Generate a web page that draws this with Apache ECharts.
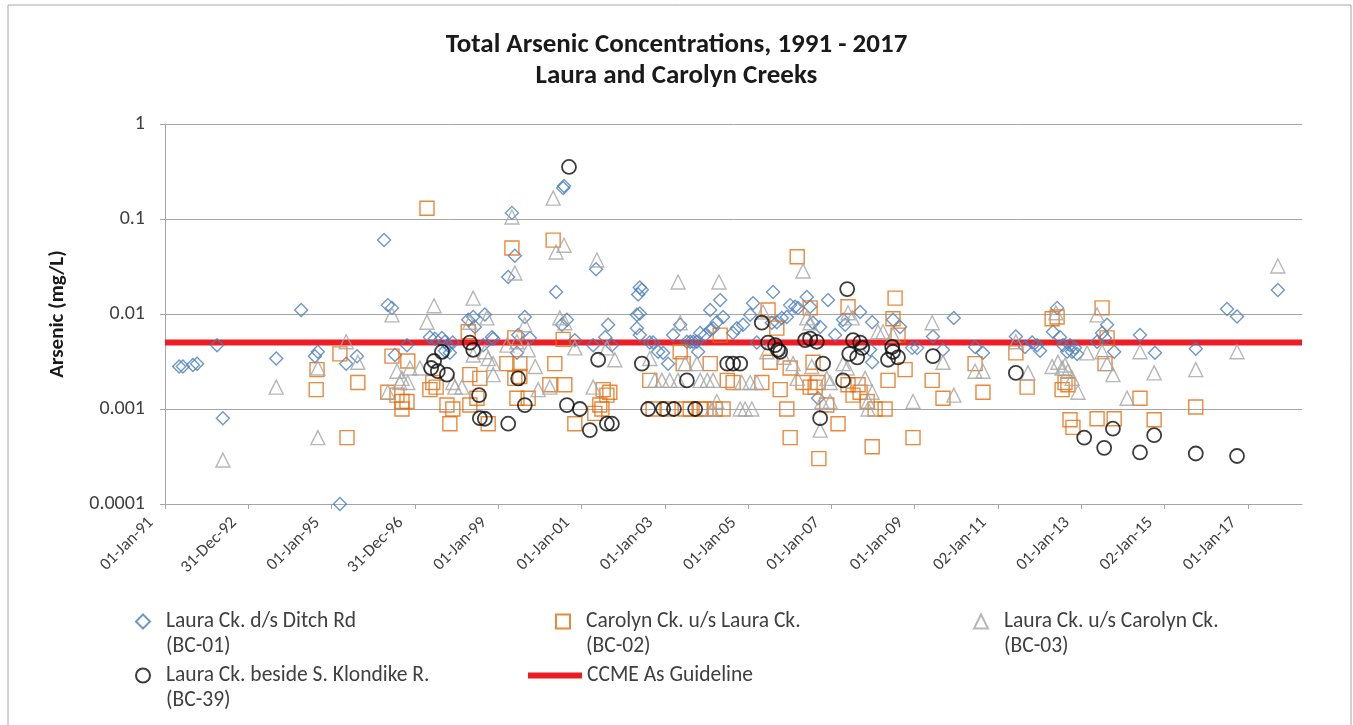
<!DOCTYPE html>
<html>
<head>
    <meta charset="UTF-8">
    <title>Total Arsenic Concentrations</title>
    <script type="text/javascript" src="https://cdn.jsdelivr.net/npm/echarts@6/dist/echarts.min.js"></script>
</head>
<body style="margin: 0; background: #fff">
<div id="container" style="width: 1353px; height: 725px"></div>
<script type="text/javascript">
    // x values are decimal years, y values are mg/L
    const xTickLabels = ['01-Jan-91', '31-Dec-92', '01-Jan-95', '31-Dec-96', '01-Jan-99', '01-Jan-01', '01-Jan-03',
        '01-Jan-05', '01-Jan-07', '01-Jan-09', '02-Jan-11', '01-Jan-13', '02-Jan-15', '01-Jan-17'];
    const xStart = 1991;
    const xEnd = 2018.3;
    const xStep = 2;
    const yTicks = [0.0001, 0.001, 0.01, 0.1, 1];
    const guideline = 0.005;

    const bc01 = [
        [1991.34, 0.0028], [1991.43, 0.0028], [1991.67, 0.0029], [1991.77, 0.003], [1992.25, 0.0047], [1992.39, 0.0008],
        [1993.67, 0.0034], [1994.27, 0.011], [1994.60, 0.0036], [1994.67, 0.004], [1995.20, 0.0001], [1995.35, 0.003],
        [1995.61, 0.0036], [1996.26, 0.06], [1996.35, 0.0124], [1996.45, 0.0116], [1996.52, 0.0037], [1996.81, 0.0047],
        [1997.36, 0.0057], [1997.48, 0.0055], [1997.65, 0.0056], [1997.72, 0.0051], [1997.79, 0.0047], [1997.91, 0.005],
        [1997.72, 0.0041], [1997.84, 0.0039], [1998.28, 0.0087], [1998.40, 0.0093], [1998.68, 0.0099], [1998.44, 0.0073],
        [1998.85, 0.0057], [1998.88, 0.0055], [1998.64, 0.0047], [1999.24, 0.0245], [1999.33, 0.116], [1999.40, 0.041],
        [1999.64, 0.0093], [1999.45, 0.0039], [1999.76, 0.0056], [1999.48, 0.006], [2000.39, 0.017], [2000.53, 0.0077],
        [2000.65, 0.0087], [2000.56, 0.212], [2000.58, 0.222], [2000.84, 0.0053], [2001.28, 0.0047], [2001.35, 0.0296],
        [2001.64, 0.0077], [2001.57, 0.0057], [2001.73, 0.0047], [2002.33, 0.0098], [2002.40, 0.0101], [2002.40, 0.019],
        [2002.45, 0.018], [2002.36, 0.016], [2002.33, 0.0071], [2002.40, 0.006], [2002.64, 0.005], [2002.72, 0.005],
        [2002.84, 0.004], [2002.96, 0.0039], [2003.08, 0.003], [2003.20, 0.006], [2003.37, 0.0077], [2003.53, 0.0051],
        [2003.61, 0.0051], [2003.68, 0.0051], [2003.77, 0.0051], [2003.80, 0.004], [2003.85, 0.0063], [2003.97, 0.006],
        [2004.09, 0.0068], [2004.16, 0.0071], [2004.09, 0.011], [2004.33, 0.014], [2004.25, 0.0082], [2004.40, 0.0093],
        [2004.64, 0.0063], [2004.73, 0.0071], [2004.88, 0.0077], [2005.05, 0.0098], [2005.12, 0.013], [2005.21, 0.005],
        [2005.60, 0.017], [2005.57, 0.0081], [2005.69, 0.0082], [2005.81, 0.0091], [2005.93, 0.0093], [2006.01, 0.0124],
        [2006.13, 0.0119], [2006.20, 0.0116], [2006.41, 0.0151], [2006.49, 0.0119], [2006.56, 0.0081], [2006.73, 0.0073],
        [2006.68, 0.0013], [2006.92, 0.014], [2007.09, 0.006], [2007.28, 0.0087], [2007.33, 0.0077], [2007.69, 0.0105],
        [2007.98, 0.0082], [2007.93, 0.0042], [2007.98, 0.0031], [2008.48, 0.0087], [2008.65, 0.0073], [2008.94, 0.0044],
        [2009.06, 0.0044], [2009.44, 0.0058], [2009.68, 0.0042], [2009.94, 0.0091], [2010.45, 0.0045], [2010.64, 0.0039],
        [2011.43, 0.0058], [2011.65, 0.0045], [2011.82, 0.005], [2011.94, 0.0047], [2012.01, 0.0041], [2012.32, 0.0065],
        [2012.42, 0.0116], [2012.49, 0.0057], [2012.56, 0.0047], [2012.66, 0.004], [2012.73, 0.0047], [2012.78, 0.004],
        [2012.85, 0.0044], [2012.90, 0.0038], [2013.38, 0.0051], [2013.50, 0.0063], [2013.57, 0.0056], [2013.62, 0.0077],
        [2013.79, 0.004], [2014.41, 0.006], [2014.77, 0.0039], [2015.75, 0.0043], [2016.50, 0.0113], [2016.74, 0.0094],
        [2017.72, 0.0179]
    ];

    const bc02 = [
        [1994.63, 0.0016], [1994.65, 0.0026], [1995.20, 0.0038], [1995.37, 0.0005], [1995.63, 0.0019], [1996.45, 0.0036],
        [1996.83, 0.0032], [1996.35, 0.0015], [1996.57, 0.0014], [1996.69, 0.0012], [1996.81, 0.0012], [1996.69, 0.001],
        [1997.29, 0.13], [1997.43, 0.0019], [1997.51, 0.0017], [1997.36, 0.0016], [1997.77, 0.0011], [1997.91, 0.001],
        [1997.84, 0.0007], [1998.28, 0.0065], [1998.32, 0.0023], [1998.32, 0.0011], [1998.56, 0.0021], [1998.49, 0.0013],
        [1998.76, 0.0007], [1999.21, 0.003], [1999.33, 0.0495], [1999.40, 0.0056], [1999.40, 0.0021], [1999.52, 0.003],
        [1999.52, 0.0022], [1999.45, 0.0013], [1999.72, 0.0013], [2000.32, 0.06], [2000.36, 0.003], [2000.24, 0.0018],
        [2000.56, 0.0054], [2000.60, 0.0018], [2000.84, 0.0007], [2001.32, 0.0009], [2001.44, 0.0011], [2001.52, 0.0016],
        [2001.68, 0.0015], [2001.61, 0.0014], [2001.49, 0.001], [2002.64, 0.002], [2002.72, 0.001], [2003.37, 0.004],
        [2003.44, 0.003], [2004.09, 0.003], [2004.33, 0.006], [2004.50, 0.002], [2003.08, 0.001], [2003.49, 0.001],
        [2003.61, 0.001], [2003.85, 0.001], [2003.99, 0.001], [2004.21, 0.001], [2004.40, 0.001], [2004.64, 0.0019],
        [2005.33, 0.0019], [2005.48, 0.011], [2005.53, 0.0031], [2005.69, 0.0071], [2005.77, 0.0016], [2005.93, 0.001],
        [2006.01, 0.0005], [2006.01, 0.0027], [2006.18, 0.04], [2006.32, 0.0019], [2006.49, 0.0116], [2006.49, 0.0017],
        [2006.61, 0.0017], [2006.68, 0.0019], [2006.56, 0.0031], [2006.70, 0.0003], [2006.89, 0.0011], [2007.16, 0.0007],
        [2007.40, 0.0119], [2007.40, 0.0018], [2007.52, 0.0014], [2007.64, 0.0018], [2007.69, 0.0015], [2007.86, 0.0012],
        [2008.05, 0.001], [2008.29, 0.001], [2007.98, 0.0004], [2008.36, 0.002], [2008.48, 0.0089], [2008.53, 0.0147],
        [2008.60, 0.006], [2008.77, 0.0026], [2008.96, 0.0005], [2009.42, 0.002], [2009.68, 0.0013], [2010.45, 0.003],
        [2010.64, 0.0015], [2011.43, 0.0039], [2011.70, 0.0017], [2012.30, 0.0089], [2012.42, 0.0093], [2012.54, 0.0016],
        [2012.61, 0.0019], [2012.68, 0.0018], [2012.73, 0.00077], [2012.80, 0.00064], [2013.38, 0.00079], [2013.50, 0.0116],
        [2013.62, 0.0056], [2013.57, 0.003], [2013.79, 0.00079], [2014.41, 0.0013], [2014.75, 0.00077], [2015.75, 0.00105]
    ];

    const bc03 = [
        [1992.39, 0.00029], [1993.67, 0.0017], [1994.67, 0.0027], [1994.67, 0.0005], [1995.35, 0.0051], [1995.63, 0.0031],
        [1996.45, 0.0098], [1996.57, 0.0025], [1996.69, 0.0021], [1996.88, 0.0027], [1996.83, 0.0019], [1996.64, 0.0019],
        [1996.35, 0.0015], [1997.12, 0.0027], [1997.46, 0.0122], [1997.29, 0.0082], [1997.91, 0.0019], [1998.13, 0.0017],
        [1997.96, 0.0017], [1998.32, 0.0082], [1998.40, 0.0147], [1998.73, 0.0091], [1998.40, 0.0037], [1998.68, 0.004],
        [1998.76, 0.0034], [1998.88, 0.003], [1998.88, 0.0023], [1999.21, 0.0047], [1999.33, 0.105], [1999.40, 0.027],
        [1999.45, 0.0051], [1999.64, 0.0077], [1999.72, 0.0042], [1999.89, 0.0028], [1999.96, 0.0016], [2000.24, 0.0017],
        [2000.32, 0.166], [2000.39, 0.045], [2000.58, 0.053], [2000.48, 0.0091], [2000.60, 0.0081], [2000.84, 0.0044],
        [2001.28, 0.0017], [2001.37, 0.037], [2001.61, 0.0044], [2001.80, 0.0033], [2002.64, 0.0034], [2002.76, 0.002],
        [2002.93, 0.002], [2003.12, 0.002], [2003.32, 0.002], [2003.32, 0.0217], [2003.37, 0.0081], [2003.49, 0.003],
        [2003.77, 0.003], [2003.85, 0.002], [2004.02, 0.002], [2004.16, 0.002], [2004.13, 0.001], [2004.25, 0.0012],
        [2004.30, 0.0217], [2004.81, 0.001], [2004.93, 0.001], [2005.09, 0.001], [2004.85, 0.0019], [2005.05, 0.0019],
        [2005.21, 0.0019], [2005.36, 0.0105], [2005.45, 0.004], [2005.86, 0.0035], [2006.08, 0.003], [2006.18, 0.0021],
        [2006.32, 0.0284], [2006.41, 0.0091], [2006.49, 0.0081], [2006.53, 0.0028], [2006.73, 0.0006], [2006.77, 0.0012],
        [2006.89, 0.0021], [2006.97, 0.0019], [2006.97, 0.0012], [2007.28, 0.003], [2007.38, 0.0027], [2007.40, 0.0103],
        [2007.50, 0.0091], [2007.81, 0.0021], [2007.98, 0.0015], [2007.88, 0.0012], [2007.88, 0.001], [2008.12, 0.0065],
        [2008.24, 0.0065], [2008.48, 0.006], [2008.96, 0.0012], [2009.42, 0.0081], [2009.68, 0.0031], [2009.94, 0.0014],
        [2010.45, 0.0025], [2010.64, 0.0025], [2011.43, 0.0051], [2011.72, 0.0024], [2012.30, 0.0028], [2012.39, 0.0103],
        [2012.44, 0.0031], [2012.54, 0.0027], [2012.61, 0.0029], [2012.68, 0.0025], [2012.78, 0.0021], [2012.92, 0.0015],
        [2013.14, 0.0039], [2013.38, 0.0098], [2013.50, 0.004], [2013.62, 0.003], [2013.76, 0.0023], [2014.10, 0.0013],
        [2014.41, 0.004], [2014.75, 0.0024], [2015.75, 0.0026], [2016.74, 0.004], [2017.72, 0.032]
    ];

    const bc39 = [
        [1997.39, 0.0027], [1997.46, 0.0032], [1997.55, 0.0025], [1997.65, 0.004], [1997.77, 0.0023], [1998.32, 0.005],
        [1998.40, 0.0042], [1998.54, 0.0014], [1998.56, 0.0008], [1998.68, 0.00079], [1999.24, 0.0007], [1999.48, 0.0021],
        [1999.64, 0.0011], [2000.70, 0.353], [2000.65, 0.0011], [2000.96, 0.001], [2001.20, 0.0006], [2001.40, 0.0033],
        [2001.61, 0.0007], [2001.73, 0.0007], [2002.45, 0.003], [2002.60, 0.001], [2002.96, 0.001], [2003.22, 0.001],
        [2003.73, 0.001], [2003.53, 0.002], [2004.50, 0.003], [2004.64, 0.003], [2004.81, 0.003], [2005.33, 0.0081],
        [2005.48, 0.005], [2005.65, 0.0047], [2005.72, 0.0042], [2005.77, 0.004], [2006.37, 0.0053], [2006.49, 0.0055],
        [2006.65, 0.0051], [2006.80, 0.003], [2006.73, 0.0008], [2007.28, 0.002], [2007.38, 0.0183], [2007.43, 0.0038],
        [2007.52, 0.0053], [2007.62, 0.0035], [2007.69, 0.005], [2007.74, 0.0044], [2008.46, 0.0045], [2008.48, 0.004],
        [2008.60, 0.0035], [2008.36, 0.0033], [2009.44, 0.0036], [2011.43, 0.0024], [2013.07, 0.0005], [2013.55, 0.00039],
        [2013.76, 0.00062], [2014.41, 0.00035], [2014.75, 0.00053], [2015.75, 0.00034], [2016.74, 0.00032]
    ];

    const names = [
        'Laura Ck. d/s Ditch Rd\n(BC-01)',
        'Carolyn Ck. u/s Laura Ck.\n(BC-02)',
        'Laura Ck. u/s Carolyn Ck.\n(BC-03)',
        'Laura Ck. beside S. Klondike R.\n(BC-39)',
        'CCME As Guideline'
    ];

    const font = 'Carlito, Calibri, Lato, "Liberation Sans", sans-serif';
    const red = '#ee1c25';
    const dom = document.getElementById('container');
    const myChart = echarts.init(dom);

    function scatter(name, data, symbol, size, color, lineWidth) {
        return {
            name: name,
            type: 'scatter',
            data: data,
            symbol: symbol,
            symbolSize: size,
            itemStyle: {color: 'rgba(255,255,255,0)', borderColor: color, borderWidth: lineWidth},
            emphasis: {disabled: true},
            z: 3
        };
    }

    // two-line names: an empty first line keeps the icon level with the first text line,
    // the {g| } spacer widens the gap between icon and text
    function legendAt(item, left, top, width, height) {
        return {
            data: [item],
            left: left,
            top: top,
            padding: 0,
            itemWidth: width,
            itemHeight: height,
            selectedMode: false,
            formatter: function (name) {
                if (name.indexOf('\n') < 0) return name;
                return '{g| }\n' + name.split('\n').map(s => '{g| }' + s).join('\n');
            },
            textStyle: {
                fontFamily: font,
                fontSize: 21.5,
                color: '#404040',
                lineHeight: 25,
                rich: {g: {width: 11, lineHeight: 25}}
            }
        };
    }

    const option = {
        animation: false,
        backgroundColor: '#fff',
        title: {
            text: 'Total Arsenic Concentrations, 1991 - 2017\nLaura and Carolyn Creeks',
            left: 'center',
            top: 25,
            textStyle: {fontFamily: font, fontSize: 27, fontWeight: 'bold', color: '#1a1a1a', lineHeight: 31}
        },
        grid: {left: 165, right: 51, top: 124, bottom: 221},
        xAxis: {
            type: 'value',
            min: xStart,
            max: xEnd,
            interval: xStep,
            splitLine: {show: false},
            axisLine: {lineStyle: {color: '#a6a6a6', width: 1}},
            axisTick: {show: true, length: 5, lineStyle: {color: '#a6a6a6'}},
            axisLabel: {
                rotate: 45,
                margin: 2,
                padding: [0, 20, 0, 0],
                fontFamily: font,
                fontSize: 17,
                color: '#404040',
                showMaxLabel: false,
                formatter: function (v) {
                    const k = (v - xStart) / xStep;
                    if (Math.abs(k - Math.round(k)) > 1e-6) return '';
                    return xTickLabels[Math.round(k)] || '';
                }
            }
        },
        yAxis: {
            type: 'log',
            logBase: 10,
            min: yTicks[0],
            max: yTicks[yTicks.length - 1],
            name: 'Arsenic (mg/L)',
            nameLocation: 'middle',
            nameGap: 97,
            nameTextStyle: {fontFamily: font, fontSize: 21, fontWeight: 'bold', color: '#1a1a1a'},
            axisLine: {show: true, lineStyle: {color: '#a6a6a6', width: 1}},
            axisTick: {show: true, length: 5, lineStyle: {color: '#a6a6a6'}},
            splitLine: {show: true, lineStyle: {color: '#a6a6a6', width: 1}},
            axisLabel: {
                margin: 20,
                fontFamily: font,
                fontSize: 20,
                color: '#404040',
                formatter: function (v) {
                    return String(Number(v.toPrecision(1)));
                }
            }
        },
        legend: [
            legendAt(names[0], 135, 584, 14, 14),
            legendAt(names[1], 555, 584, 14, 14),
            legendAt(names[2], 973, 584, 14, 14),
            legendAt(names[3], 135, 638, 14, 14),
            legendAt({name: names[4], icon: 'rect', itemStyle: {color: red}}, 528, 663, 54, 6)
        ],
        graphic: [{
            type: 'rect',
            shape: {x: 8, y: 5, width: 1343, height: 730},
            style: {fill: 'none', stroke: '#a6a6a6', lineWidth: 1},
            silent: true
        }],
        series: [
            scatter(names[0], bc01, 'diamond', 13, '#4a7ebb', 1.4),
            scatter(names[1], bc02, 'rect', 14, '#e46c0a', 1.4),
            scatter(names[2], bc03, 'triangle', 14, '#a5a5a5', 1.4),
            scatter(names[3], bc39, 'circle', 14, '#0d0d0d', 1.8),
            {
                name: names[4],
                type: 'line',
                data: [[xStart, guideline], [xEnd, guideline]],
                symbol: 'none',
                lineStyle: {color: red, width: 6},
                itemStyle: {color: red},
                emphasis: {disabled: true},
                z: 2
            }
        ]
    };

    myChart.setOption(option, true);
</script>
</body>
</html>
